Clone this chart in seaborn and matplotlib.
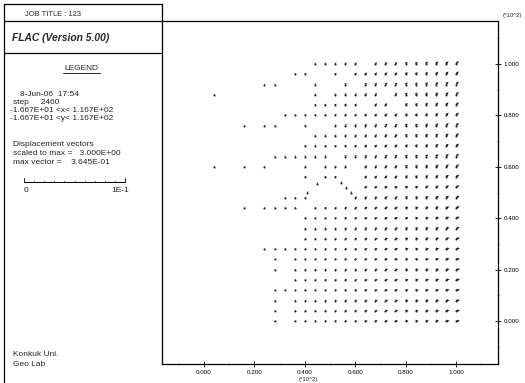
import numpy as np
import pandas as pd
import matplotlib
matplotlib.use("Agg")
import matplotlib.pyplot as plt
import seaborn as sns

# ---------------- data ----------------
grid_x = [0.04, 0.08, 0.12, 0.16, 0.20, 0.24, 0.28, 0.32, 0.36, 0.40, 0.44, 0.48, 0.52,
          0.56, 0.60, 0.64, 0.68, 0.72, 0.76, 0.80, 0.84, 0.88, 0.92, 0.96, 1.00]
grid_y_top_down = [1.00, 0.96, 0.92, 0.88, 0.84, 0.80, 0.76, 0.72, 0.68, 0.64, 0.60, 0.56, 0.52,
                   0.48, 0.44, 0.40, 0.36, 0.32, 0.28, 0.24, 0.20, 0.16, 0.12, 0.08, 0.04, 0.00]
# which gridpoints carry a visible vector (top row first)
point_rows = [
    "0000000000111110111111111",
    "0000000011001011111111111",
    "0000011000100101111111111",
    "1000000000101111101111111",
    "0000000000111110110111111",
    "0000000111111111111111111",
    "0001011001001111111111111",
    "0000000000111111111111111",
    "0000000001111111111111111",
    "0000001111110111111111111",
    "1001010001011101111111111",
    "0000000001011001111111111",
    "0000000000000001111111111",
    "0000000111000011111111111",
    "0001011110111111111111111",
    "0000000001111111111111111",
    "0000000001111111111111111",
    "0000000001111111111111111",
    "0000011111111111111111111",
    "0000001011111111111111111",
    "0000001011111111111111111",
    "0000000011111111111111111",
    "0000001111111111111111111",
    "0000001011111111111111111",
    "0000001011111111111111111",
    "0000001011111111111111111",
]
# displaced gridpoints along the opening boundary
arc_x = [0.409, 0.448, 0.544, 0.563, 0.583]
arc_y = [0.500, 0.535, 0.539, 0.519, 0.500]
# approximate vector length per column and direction per row (top row first)
col_mag = [0.005, 0.005, 0.005, 0.005, 0.005, 0.005, 0.005, 0.006, 0.006, 0.007, 0.007, 0.008,
           0.008, 0.009, 0.009, 0.010, 0.010, 0.011, 0.011, 0.012, 0.012, 0.013, 0.014, 0.015, 0.016]
row_angle = [45, 45, 45, 45, 45, 44, 42, 42, 40, 40, 38, 35, 30, 25, 22, 20, 18, 15, 15, 12,
             10, 10, 8, 5, 5, 5]

x_ticks = [0.0, 0.2, 0.4, 0.6, 0.8, 1.0]
x_tick_labels = ["0.000", "0.200", "0.400", "0.600", "0.800", "1.000"]
y_ticks = [0.0, 0.2, 0.4, 0.6, 0.8, 1.0]
y_tick_labels = ["0.000", "0.200", "0.400", "0.600", "0.800", "1.000"]

legend_lines = ["8-Jun-06  17:54", "step     2460",
                "-1.667E+01 <x< 1.167E+02", "-1.667E+01 <y< 1.167E+02"]
vector_lines = ["Displacement vectors", "scaled to max =   3.000E+00", "max vector =    3.645E-01"]

# ---------------- build table ----------------
rows = []
for ri, s in enumerate(point_rows):
    for ci, ch in enumerate(s):
        if ch == "1":
            a = np.deg2rad(row_angle[ri])
            rows.append((grid_x[ci], grid_y_top_down[ri],
                         col_mag[ci] * np.cos(a), col_mag[ci] * np.sin(a)))
for ax_, ay_ in zip(arc_x, arc_y):
    rows.append((ax_, ay_, 0.006, 0.004))
df = pd.DataFrame(rows, columns=["x", "y", "u", "v"])

# ---------------- figure ----------------
sns.set_theme(style="white")
plt.rcParams["font.family"] = ["Liberation Sans", "DejaVu Sans"]
W, H = 525, 383
fig = plt.figure(figsize=(W / 100, H / 100), dpi=100)
fig.patch.set_facecolor("white")

# panel overlay in pixel coords
pan = fig.add_axes([0, 0, 1, 1])
pan.set_xlim(0, W)
pan.set_ylim(H, 0)
pan.axis("off")
lk = dict(color="black", lw=0.9)
pan.plot([4, 4], [4, 383], **lk)
pan.plot([4, 162], [4, 4], **lk)
pan.plot([4, 162], [21, 21], **lk)
pan.plot([4, 162], [53, 53], **lk)
pan.plot([162, 162], [4, 21], **lk)

fs = 6.0
pan.text(25, 14, "JOB TITLE : 123", fontsize=5.4, va="center", ha="left")
pan.text(12, 38, "FLAC (Version 5.00)", fontsize=7.4, fontweight="bold", fontstyle="italic",
         va="center", ha="left")
pan.text(81, 68, "LEGEND", fontsize=fs, va="center", ha="center")
pan.plot([63, 100], [73, 73], color="black", lw=0.6)
for i, t in enumerate(legend_lines):
    xs = [20, 13, 10, 10][i]
    pan.text(xs, [94, 102, 110, 118][i], t, fontsize=fs, va="center", ha="left")
for i, t in enumerate(vector_lines):
    pan.text(13, 145 + 8.5 * i, t, fontsize=fs, va="center", ha="left")
# scale bar
pan.plot([24, 125], [182, 182], color="black", lw=0.7)
for k in range(11):
    xx = 24 + k * 10.1
    h = 4 if k in (0, 10) else 1.5
    pan.plot([xx, xx], [182, 182 - h], color="black", lw=0.6)
pan.text(26, 190, "0", fontsize=fs, va="center", ha="center")
pan.text(120, 190, "1E-1", fontsize=fs, va="center", ha="center")
pan.text(13, 355, "Konkuk Uni.", fontsize=fs, va="center", ha="left")
pan.text(13, 365, "Geo Lab", fontsize=fs, va="center", ha="left")
pan.text(308, 379, "(*10^2)", fontsize=4.4, va="center", ha="center")
pan.text(503, 15, "(*10^2)", fontsize=4.4, va="center", ha="left")

# main plot
ax = fig.add_axes([162 / W, 1 - 364 / H, (498 - 162) / W, (364 - 21) / H])
sns.scatterplot(data=df, x="x", y="y", ax=ax, s=2.2, color="#222222", linewidth=0,
                legend=False)
ax.quiver(df["x"], df["y"], df["u"], df["v"], angles="xy", scale_units="xy", scale=1,
          color="#222222", width=0.0035, headwidth=2.5, headlength=2.5, headaxislength=2.2)
ax.set_xlim(-0.1667, 1.167)
ax.set_ylim(-0.1667, 1.167)
ax.set_xlabel("")
ax.set_ylabel("")
ax.set_xticks(x_ticks)
ax.set_xticklabels(x_tick_labels, fontsize=4.5)
ax.set_xticks([-0.1, 0.1, 0.3, 0.5, 0.7, 0.9, 1.1], minor=True)
ax.yaxis.tick_right()
ax.set_yticks(y_ticks)
ax.set_yticklabels(y_tick_labels, fontsize=4.5)
ax.set_yticks([-0.1, 0.1, 0.3, 0.5, 0.7, 0.9, 1.1], minor=True)
ax.tick_params(axis="both", which="major", direction="inout", length=4, width=0.6,
               pad=2, colors="black", bottom=True, right=True, left=False)
ax.tick_params(axis="both", which="minor", direction="inout", length=2, width=0.5,
               bottom=True, right=True, left=False)
for sp in ax.spines.values():
    sp.set_visible(True)
    sp.set_color("black")
    sp.set_linewidth(0.9)
ax.set_facecolor("white")

fig.savefig("out.png", dpi=100, facecolor="white")
